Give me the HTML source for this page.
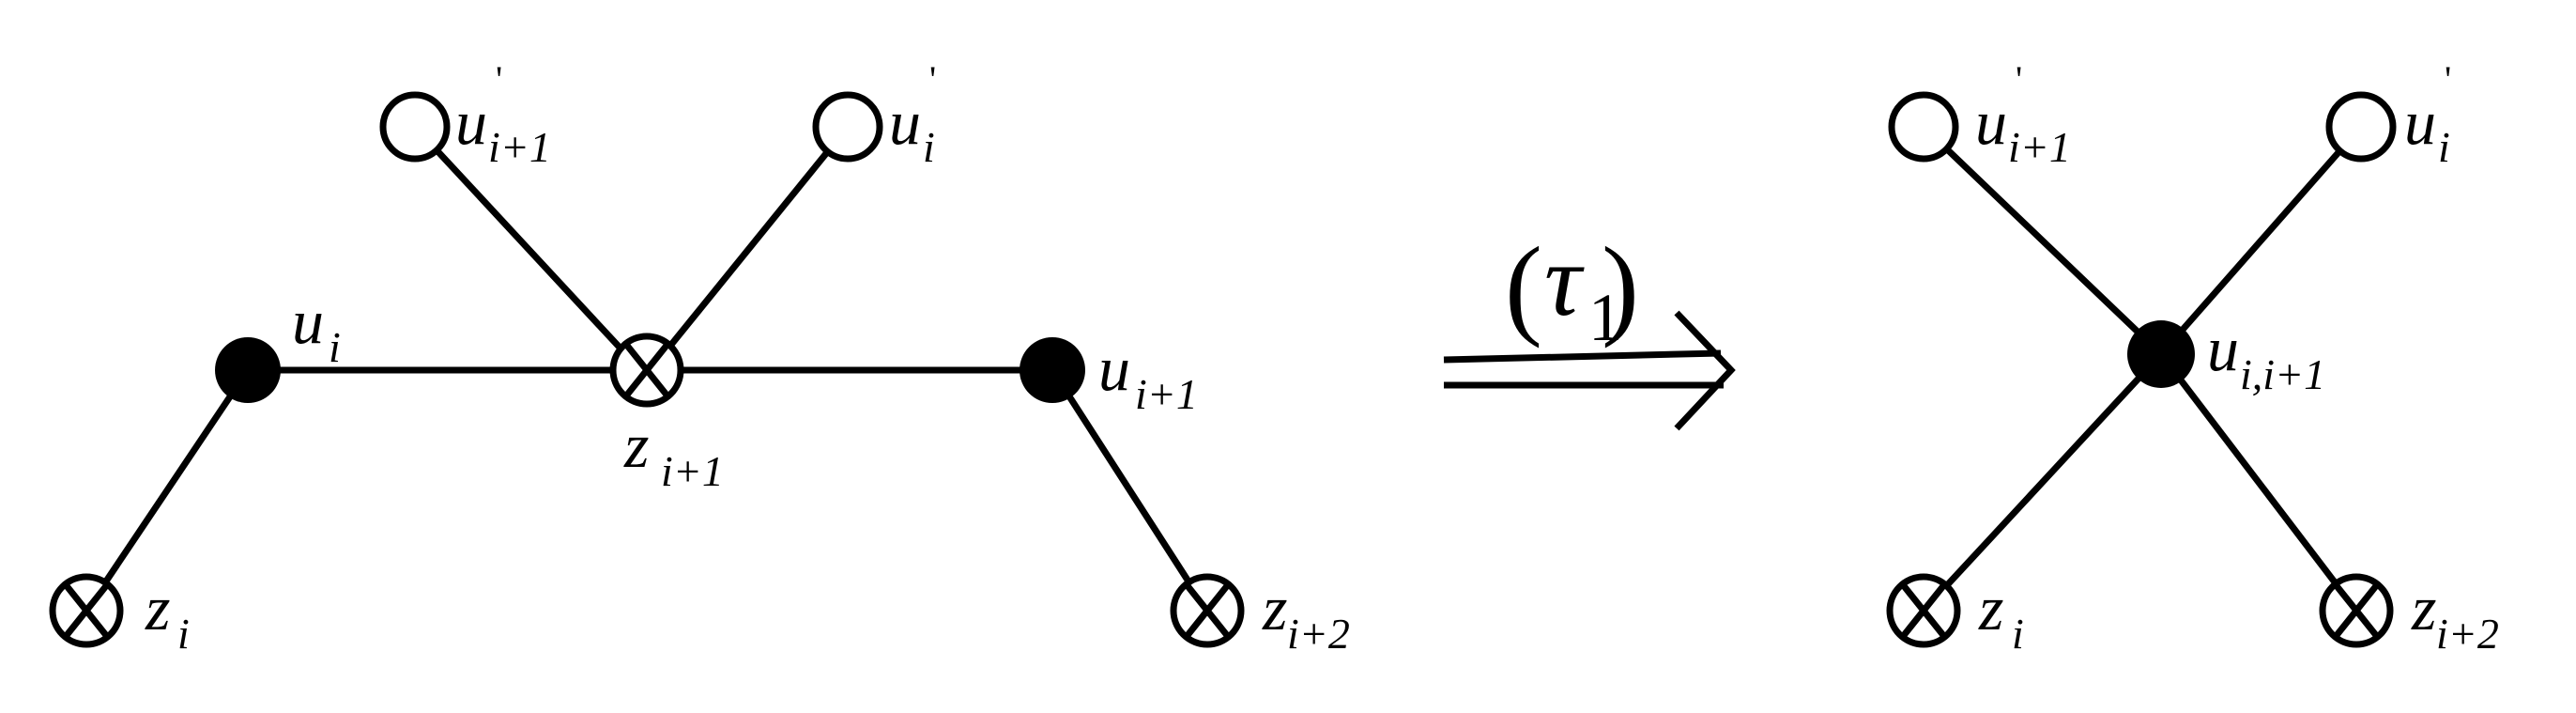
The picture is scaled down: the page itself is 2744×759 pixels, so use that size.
<!DOCTYPE html>
<html><head><style>html,body{margin:0;padding:0;background:#fff}svg{display:block}</style></head>
<body>
<svg width="2744" height="759" viewBox="0 0 2744 759" xmlns="http://www.w3.org/2000/svg">
<g stroke="#000" stroke-width="7" fill="none">
<line x1="264" y1="394" x2="1121" y2="394"/>
<line x1="264" y1="394" x2="92" y2="650"/>
<line x1="1121" y1="394" x2="1286" y2="650"/>
<line x1="442" y1="135" x2="702" y2="415"/>
<line x1="903" y1="135" x2="676" y2="415"/>
<line x1="2049" y1="135" x2="2302" y2="377"/>
<line x1="2515" y1="135" x2="2302" y2="377"/>
<line x1="2049" y1="650" x2="2302" y2="377"/>
<line x1="2510" y1="650" x2="2302" y2="377"/>
</g>
<g stroke="#000" stroke-width="7" fill="#fff">
<circle cx="442" cy="135" r="34"/>
<circle cx="903" cy="135" r="34"/>
<circle cx="2049" cy="135" r="34"/>
<circle cx="2515" cy="135" r="34"/>
<circle cx="689" cy="394" r="36"/>
<circle cx="92" cy="650" r="36"/>
<circle cx="1286" cy="650" r="36"/>
<circle cx="2049" cy="650" r="36"/>
<circle cx="2510" cy="650" r="36"/>
</g>
<g fill="#000">
<circle cx="264" cy="394" r="35"/>
<circle cx="1121" cy="394" r="35"/>
<circle cx="2302" cy="377" r="36"/>
</g>
<g stroke="#000" stroke-width="7" fill="none">
<path d="M665 364 L713 424 M713 364 L665 424"/>
<path d="M68 620 L116 680 M116 620 L68 680"/>
<path d="M1262 620 L1310 680 M1310 620 L1262 680"/>
<path d="M2025 620 L2073 680 M2073 620 L2025 680"/>
<path d="M2486 620 L2534 680 M2534 620 L2486 680"/>
<path d="M1538 383 L1833 376 M1538 410 L1836 410"/>
<path d="M1786 333 L1844 394 L1786 456"/>
</g>
<g font-style="italic" fill="#000" font-family="Liberation Serif, Times New Roman, Times, serif" style="font-family:'Liberation Serif','Times New Roman',Times,serif">
<text x="485" y="153" font-size="68">u</text><text x="520" y="172" font-size="46">i+1</text><text x="528" y="98" font-size="40" font-style="normal">'</text>
<text x="947" y="153" font-size="68">u</text><text x="983" y="172" font-size="46">i</text><text x="990" y="98" font-size="40" font-style="normal">'</text>
<text x="311" y="365" font-size="68">u</text><text x="350" y="385" font-size="46">i</text>
<text x="1170" y="415" font-size="68">u</text><text x="1209" y="435" font-size="46">i+1</text>
<text x="665" y="497" font-size="68">z</text><text x="704" y="517" font-size="46">i+1</text>
<text x="155" y="670" font-size="68">z</text><text x="189" y="690" font-size="46">i</text>
<text x="1345" y="670" font-size="68">z</text><text x="1371" y="690" font-size="46">i+2</text>
<text x="2104" y="153" font-size="68">u</text><text x="2139" y="172" font-size="46">i+1</text><text x="2147" y="98" font-size="40" font-style="normal">'</text>
<text x="2561" y="153" font-size="68">u</text><text x="2597" y="172" font-size="46">i</text><text x="2604" y="98" font-size="40" font-style="normal">'</text>
<text x="2351" y="394" font-size="68">u</text><text x="2386" y="414" font-size="46">i,i+1</text>
<text x="2108" y="670" font-size="68">z</text><text x="2143" y="690" font-size="46">i</text>
<text x="2569" y="670" font-size="68">z</text><text x="2595" y="690" font-size="46">i+2</text>
<text x="1603" y="345" font-size="120" font-style="normal">(</text>
<text x="1645" y="335" font-size="110">τ</text>
<text x="1692" y="362" font-size="72" font-style="normal">1</text>
<text x="1706" y="345" font-size="120" font-style="normal">)</text>
</g>
</svg>
</body></html>
